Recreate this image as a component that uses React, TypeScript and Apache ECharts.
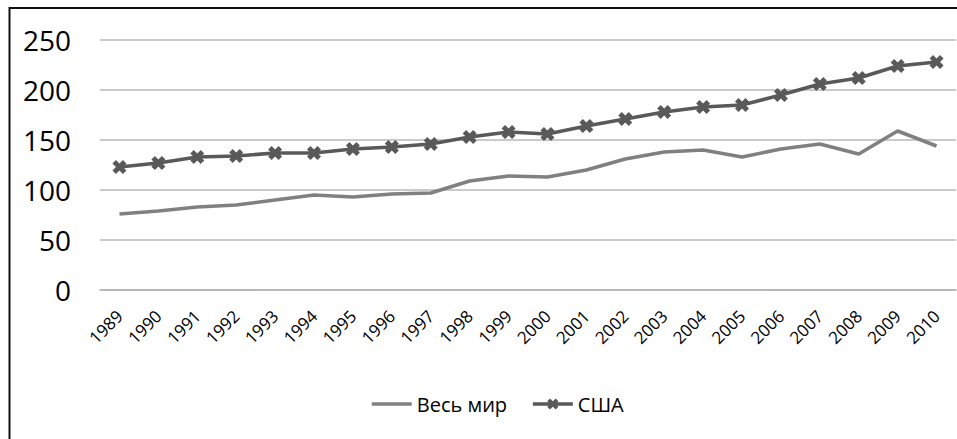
import React, { useEffect, useRef } from "react";
import * as echarts from "echarts";

const years = ["1989","1990","1991","1992","1993","1994","1995","1996","1997","1998","1999","2000","2001","2002","2003","2004","2005","2006","2007","2008","2009","2010"];
const worldValues = [76, 79, 83, 85, 90, 95, 93, 96, 97, 109, 114, 113, 120, 131, 138, 140, 133, 141, 146, 136, 159, 144];
const usaValues = [123, 127, 133, 134, 137, 137, 141, 143, 146, 153, 158, 156, 164, 171, 178, 183, 185, 195, 206, 212, 224, 228];
const seriesNames = ["Весь мир", "США"];
const yTicks = { min: 0, max: 250, interval: 50 };

const X_SYMBOL = "path://M0,2.5 L2.5,0 L5,2.5 L7.5,0 L10,2.5 L7.5,5 L10,7.5 L7.5,10 L5,7.5 L2.5,10 L0,7.5 L2.5,5 Z";

export default function App() {
  const ref = useRef<HTMLDivElement>(null);
  useEffect(() => {
    if (!ref.current) return;
    const chart = echarts.init(ref.current, null, { renderer: "svg" });
    const font = "'Open Sans', 'Noto Sans', sans-serif";
    chart.setOption({
      animation: false,
      backgroundColor: "#ffffff",
      textStyle: { fontFamily: font },
      graphic: [
        {
          type: "rect",
          shape: { x: 9.5, y: 8, width: 1200, height: 800 },
          style: { fill: "none", stroke: "#111", lineWidth: 2 },
          silent: true,
        },
      ],
      grid: { left: 100, right: 1, top: 40, bottom: 149, containLabel: false },
      legend: {
        top: 389,
        left: 365,
        itemWidth: 40,
        itemHeight: 14,
        itemGap: 24,
        textStyle: { fontSize: 20, color: "#000", fontFamily: font },
        data: [
          { name: seriesNames[0], itemStyle: { opacity: 0 }, lineStyle: { width: 3.5, color: "#808080" } },
          { name: seriesNames[1], lineStyle: { width: 3.5, color: "#595959" } },
        ],
      },
      xAxis: {
        type: "category",
        data: years,
        boundaryGap: true,
        axisLine: { show: true, lineStyle: { color: "#b3b3b3", width: 1.5 } },
        axisTick: { show: false },
        axisLabel: {
          rotate: 45,
          margin: 23,
          fontSize: 17,
          color: "#000",
          fontFamily: font,
          interval: 0,
        },
      },
      yAxis: {
        type: "value",
        min: yTicks.min,
        max: yTicks.max,
        interval: yTicks.interval,
        axisLine: { show: false },
        axisTick: { show: false },
        splitLine: { lineStyle: { color: "#b8b8b8", width: 1.5 } },
        axisLabel: { fontSize: 28, color: "#000", margin: 29, fontFamily: font },
      },
      series: [
        {
          name: seriesNames[0],
          type: "line",
          data: worldValues,
          symbol: "none",
          lineStyle: { color: "#808080", width: 3.5 },
          itemStyle: { color: "#808080" },
        },
        {
          name: seriesNames[1],
          type: "line",
          data: usaValues,
          symbol: X_SYMBOL,
          symbolSize: 14,
          lineStyle: { color: "#595959", width: 3.5 },
          itemStyle: { color: "#595959" },
        },
      ],
    });
    return () => chart.dispose();
  }, []);
  return (
    <div
      ref={ref}
      style={{ position: "fixed", left: 0, top: 0, width: 957, height: 439 }}
    />
  );
}
